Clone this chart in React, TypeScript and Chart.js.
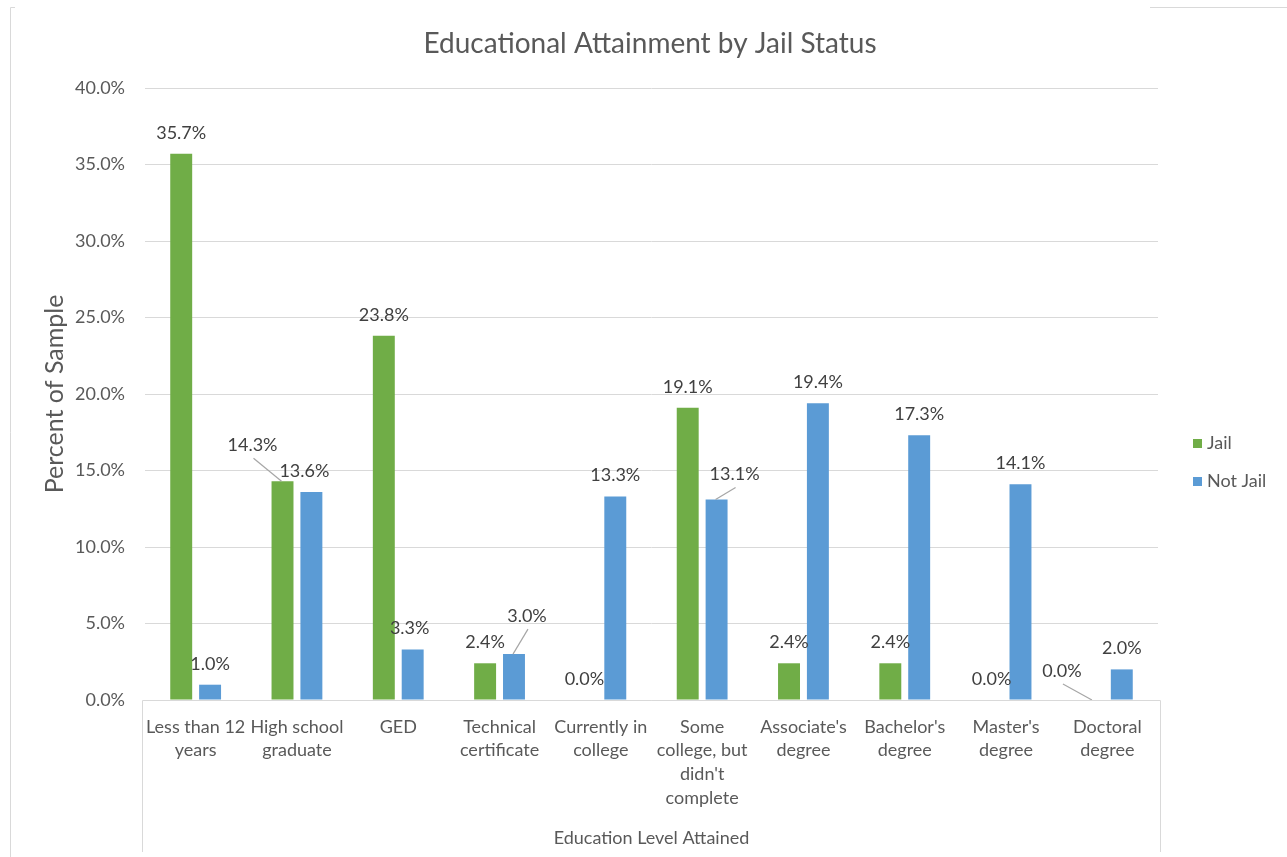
import React, { useEffect, useRef } from "react";
import { Chart, registerables } from "chart.js";

Chart.register(...registerables);

const categories: string[][] = [
  ["Less than 12", "years"],
  ["High school", "graduate"],
  ["GED"],
  ["Technical", "certificate"],
  ["Currently in", "college"],
  ["Some", "college, but", "didn't", "complete"],
  ["Associate's", "degree"],
  ["Bachelor's", "degree"],
  ["Master's", "degree"],
  ["Doctoral", "degree"],
];
const seriesNames = ["Jail", "Not Jail"];
const jailValues = [35.7, 14.3, 23.8, 2.4, 0.0, 19.1, 2.4, 2.4, 0.0, 0.0];
const notJailValues = [1.0, 13.6, 3.3, 3.0, 13.3, 13.1, 19.4, 17.3, 14.1, 2.0];
const chartTitle = "Educational Attainment by Jail Status";
const yAxisTitle = "Percent of Sample";
const xAxisTitle = "Education Level Attained";

const FONT = "Lato, Carlito, 'Liberation Sans', sans-serif";
const GREEN = "#70AD47";
const BLUE = "#5B9BD5";
const TEXT = "#595959";
const LABEL = "#404040";
const GRID = "#D9D9D9";

// label placement tweaks (style, keyed "datasetIndex-barIndex")
const labelShift: Record<string, { dx: number; dy: number; leader?: boolean }> = {
  "0-1": { dx: -30, dy: -15, leader: true },
  "1-1": { dx: -7, dy: 0 },
  "1-2": { dx: -3, dy: 0 },
  "1-3": { dx: 13, dy: -17, leader: true },
  "1-5": { dx: 18, dy: -4, leader: true },
  "0-4": { dx: -2, dy: 0 },
  "0-9": { dx: -31, dy: -8, leader: true },
};

const decorPlugin = {
  id: "decor",
  afterDraw(chart: any) {
    const { ctx, chartArea } = chart;
    const { left, right, bottom } = chartArea;
    ctx.save();
    ctx.strokeStyle = GRID;
    ctx.lineWidth = 1;
    // outer frame pieces
    ctx.beginPath();
    ctx.moveTo(10.5, 857);
    ctx.lineTo(10.5, 7.5);
    ctx.lineTo(15, 7.5);
    ctx.moveTo(1150, 7.5);
    ctx.lineTo(1287, 7.5);
    ctx.stroke();
    // category box
    ctx.beginPath();
    ctx.moveTo(left - 2.5, 852);
    ctx.lineTo(left - 2.5, Math.round(bottom) + 0.5);
    ctx.lineTo(right + 2.5, Math.round(bottom) + 0.5);
    ctx.lineTo(right + 2.5, 852);
    ctx.stroke();
    ctx.restore();

    // title
    ctx.save();
    ctx.font = `28px ${FONT}`;
    ctx.fillStyle = TEXT;
    ctx.textAlign = "center";
    ctx.textBaseline = "middle";
    ctx.fillText(chartTitle, 650, 44);
    ctx.restore();

    // legend
    ctx.save();
    ctx.font = `18px ${FONT}`;
    ctx.textBaseline = "middle";
    ctx.textAlign = "left";
    const colors = [GREEN, BLUE];
    const ys = [443, 481];
    seriesNames.forEach((n, i) => {
      ctx.fillStyle = colors[i];
      ctx.fillRect(1193, ys[i] - 4, 9, 9);
      ctx.fillStyle = TEXT;
      ctx.fillText(n, 1207, ys[i]);
    });
    ctx.restore();
  },
  afterDatasetsDraw(chart: any) {
    const { ctx } = chart;
    ctx.save();
    ctx.font = `18px ${FONT}`;
    ctx.textAlign = "center";
    ctx.textBaseline = "middle";
    chart.data.datasets.forEach((ds: any, di: number) => {
      const meta = chart.getDatasetMeta(di);
      meta.data.forEach((bar: any, bi: number) => {
        const v = ds.data[bi] as number;
        const s = labelShift[`${di}-${bi}`] || { dx: 0, dy: 0 };
        const cx = bar.x + s.dx;
        const cy = bar.y - 21 + s.dy;
        if (s.leader) {
          ctx.strokeStyle = "#A6A6A6";
          ctx.lineWidth = 1.2;
          ctx.beginPath();
          ctx.moveTo(cx + 1, cy + 13);
          ctx.lineTo(bar.x - 1, bar.y);
          ctx.stroke();
        }
        ctx.fillStyle = LABEL;
        ctx.fillText(v.toFixed(1) + "%", cx, cy);
      });
    });
    ctx.restore();
  },
};

export default function App() {
  const ref = useRef<HTMLCanvasElement | null>(null);
  useEffect(() => {
    if (!ref.current) return;
    const chart = new Chart(ref.current, {
      type: "bar",
      data: {
        labels: categories,
        datasets: [
          { label: seriesNames[0], data: jailValues, backgroundColor: GREEN, categoryPercentage: 0.57, barPercentage: 0.76 },
          { label: seriesNames[1], data: notJailValues, backgroundColor: BLUE, categoryPercentage: 0.57, barPercentage: 0.76 },
        ],
      },
      options: {
        responsive: false,
        animation: false,
        layout: { padding: { left: 30, right: 129, top: 88, bottom: 7 } },
        plugins: {
          legend: { display: false },
          tooltip: { enabled: false },
          title: { display: false },
        },
        scales: {
          x: {
            grid: { display: false, drawTicks: false },
            border: { display: false },
            ticks: {
              color: TEXT,
              font: { family: FONT, size: 18, lineHeight: 1.32 },
              padding: 15,
              maxRotation: 0,
              autoSkip: false,
            },
            title: {
              display: true,
              text: xAxisTitle,
              color: TEXT,
              font: { family: FONT, size: 18 },
              padding: { top: 0, bottom: 1 },
            },
            afterFit(scale: any) {
              scale.height = 150;
            },
          },
          y: {
            min: 0,
            max: 40,
            grid: { color: GRID, lineWidth: 1, drawTicks: false },
            border: { display: false },
            ticks: {
              stepSize: 5,
              color: TEXT,
              font: { family: FONT, size: 18 },
              padding: 20,
              callback: (v: any) => Number(v).toFixed(1) + "%",
            },
            title: {
              display: true,
              text: yAxisTitle,
              color: TEXT,
              font: { family: FONT, size: 25 },
              padding: { top: 10, bottom: 0 },
            },
            afterFit(scale: any) {
              scale.width = 115;
            },
          },
        },
      },
      plugins: [decorPlugin],
    });
    return () => chart.destroy();
  }, []);
  return (
    <div style={{ position: "absolute", left: 0, top: 0, width: 1287, height: 857, background: "#fff" }}>
      <canvas ref={ref} width={1287} height={857} />
    </div>
  );
}
